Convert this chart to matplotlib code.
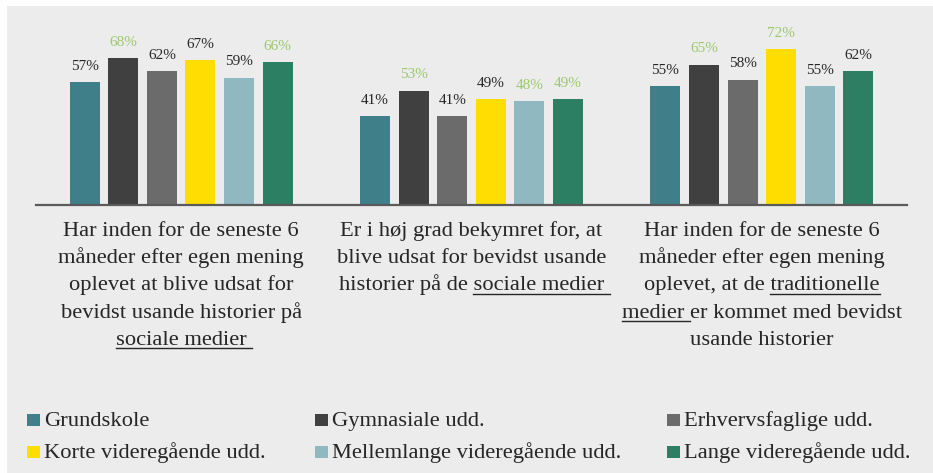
import matplotlib
matplotlib.use("Agg")
import matplotlib.pyplot as plt
from matplotlib.patches import Rectangle
from matplotlib.lines import Line2D
from matplotlib.font_manager import FontProperties
import numpy as np

# ---- data ----
series = ["Grundskole", "Gymnasiale udd.", "Erhvervsfaglige udd.",
          "Korte videregående udd.", "Mellemlange videregående udd.",
          "Lange videregående udd."]
grundskole = [57, 41, 55]
gymnasiale = [68, 53, 65]
erhvervsfaglige = [62, 41, 58]
korte = [67, 49, 72]
mellemlange = [59, 48, 55]
lange = [66, 49, 62]
values = [grundskole, gymnasiale, erhvervsfaglige, korte, mellemlange, lange]

# value labels shown in the highlight colour
highlight = [
    [False, False, False],
    [True, True, True],
    [False, False, False],
    [False, False, True],
    [False, True, False],
    [True, True, False],
]

# category labels, one tuple per line: (plain, underlined, plain)
categories = [
    [("Har inden for de seneste 6", "", ""),
     ("måneder efter egen mening", "", ""),
     ("oplevet at blive udsat for", "", ""),
     ("bevidst usande historier på", "", ""),
     ("", "sociale medier ", "")],
    [("Er i høj grad bekymret for, at", "", ""),
     ("blive udsat for bevidst usande", "", ""),
     ("historier på de ", "sociale medier ", "")],
    [("Har inden for de seneste 6", "", ""),
     ("måneder efter egen mening", "", ""),
     ("oplevet, at de ", "traditionelle", ""),
     ("", "medier ", "er kommet med bevidst"),
     ("usande historier", "", "")],
]

colors = ["#3F7F8A", "#404040", "#6B6B6B", "#FFDD00", "#8FB8C1", "#2C7F62"]
label_black = "#262626"
label_green = "#9BC96B"
bg = "#ECECEC"
serif = "Liberation Serif"

# ---- figure ----
W, H = 933, 473
fig = plt.figure(figsize=(W / 100, H / 100), dpi=100)
fig.patch.set_facecolor("white")


def fx(x):
    return x / W


def fy(y):
    return 1 - y / H


fig.patches.append(Rectangle((fx(7), -0.05), 1.1, fy(6) + 0.05, transform=fig.transFigure,
                             facecolor=bg, edgecolor="none", zorder=-10, clip_on=False))

px_per_pct = 2.16
ax_top, ax_base = 20, 205
ax = fig.add_axes([fx(36), fy(ax_base), (907 - 36) / W, (ax_base - ax_top) / H])
ax.set_facecolor("none")
ax.set_xlim(-0.5, 2.5)
ax.set_ylim(0, (ax_base - ax_top) / px_per_pct)
for s in ["top", "left", "right"]:
    ax.spines[s].set_visible(False)
ax.spines["bottom"].set_color("#5A5A5A")
ax.spines["bottom"].set_linewidth(1.6)
ax.set_xticks([])
ax.set_yticks([])

n = len(series)
step = 0.133
bw = 0.1034
xc = np.arange(len(categories))
for i in range(n):
    xs = xc + (i - (n - 1) / 2) * step
    ax.bar(xs, values[i], width=bw, color=colors[i], edgecolor="none", zorder=2)
    for x, v, hl in zip(xs, values[i], highlight[i]):
        ax.annotate(f"{v}%", (x, v), xytext=(0, 8.9), textcoords="offset points",
                    ha="center", va="baseline", fontsize=11, family=serif,
                    color=label_green if hl else label_black)

# ---- category labels with underlined parts ----
fig.canvas.draw()
renderer = fig.canvas.get_renderer()
fp = FontProperties(family=serif, size=16.2)


def width(s):
    w, _, _ = renderer.get_text_width_height_descent(s + "|", fp, ismath=False)
    w0, _, _ = renderer.get_text_width_height_descent("|", fp, ismath=False)
    return w - w0


centers_px = [ax.transData.transform((x, 0))[0] for x in xc]
line0, line_gap = 236, 27.2
for cx, lines in zip(centers_px, categories):
    for k, (a, u, b) in enumerate(lines):
        s = (a + u + b).rstrip()
        y = line0 + k * line_gap
        fig.text(fx(cx), fy(y), s, ha="center", va="baseline", fontproperties=fp,
                 color=label_black)
        if u:
            left = cx - width(s) / 2
            x0 = left + width(a)
            x1 = left + width(a + u)
            fig.add_artist(Line2D([fx(x0), fx(x1)], [fy(y + 3.6), fy(y + 3.6)],
                                  transform=fig.transFigure, color=label_black, lw=1.0))

# ---- legend ----
leg_cols = [27, 315, 667]
leg_rows = [426, 458]
for i, name in enumerate(series):
    x = leg_cols[i % 3]
    y = leg_rows[i // 3]
    fig.patches.append(Rectangle((fx(x), fy(y)), 13 / W, 12.5 / H, transform=fig.transFigure,
                                 facecolor=colors[i], edgecolor="none"))
    fig.text(fx(x + 17), fy(y), name, ha="left", va="baseline", fontproperties=fp,
             color=label_black)

fig.savefig("out.png", dpi=100, facecolor=fig.get_facecolor())
